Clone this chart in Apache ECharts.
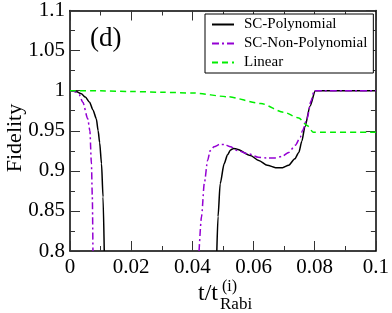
<!DOCTYPE html>
<html>
<head>
<meta charset="utf-8">
<script src="https://cdn.jsdelivr.net/npm/echarts@6/dist/echarts.min.js"></script>
<style>html,body{margin:0;padding:0;background:#fff}#c{width:392px;height:313px}</style>
</head>
<body>
<div id="c"></div>
<script>
// ---- data ----
var xTicks = [0, 0.02, 0.04, 0.06, 0.08, 0.1];
var yTicks = [0.8, 0.85, 0.9, 0.95, 1, 1.05, 1.1];

var polyT1 = [0, 0.002, 0.0037, 0.005, 0.0064, 0.0075, 0.0086, 0.0092, 0.0097, 0.0103, 0.0108, 0.0112];
var polyF1 = [1.0, 0.999, 0.996, 0.992, 0.9855, 0.976, 0.965, 0.95, 0.935, 0.909, 0.8675, 0.80];
var polyT2 = [0.0480, 0.0484, 0.0491, 0.0504, 0.0515, 0.0525, 0.0535, 0.0546, 0.059, 0.0617, 0.0645, 0.0672, 0.0695, 0.0715, 0.0735, 0.0748, 0.0758, 0.0768, 0.0785, 0.0802, 0.1];
var polyF2 = [0.80, 0.843, 0.884, 0.909, 0.920, 0.926, 0.928, 0.927, 0.919, 0.913, 0.907, 0.904, 0.904, 0.907, 0.915, 0.923, 0.937, 0.955, 0.981, 1.0, 1.0];

var nonPolyT1 = [0, 0.001, 0.002, 0.003, 0.0042, 0.0058, 0.0065, 0.007, 0.0073, 0.0075];
var nonPolyF1 = [1.0, 0.9995, 0.998, 0.995, 0.9855, 0.965, 0.95, 0.909, 0.8675, 0.80];
var nonPolyT2 = [0.0422, 0.043, 0.0439, 0.045, 0.0458, 0.0471, 0.0490, 0.0504, 0.0525, 0.0546, 0.0585, 0.0615, 0.0643, 0.067, 0.0693, 0.0715, 0.0737, 0.0753, 0.076, 0.0775, 0.0788, 0.0798, 0.1];
var nonPolyF2 = [0.80, 0.843, 0.884, 0.913, 0.925, 0.930, 0.933, 0.933, 0.930, 0.9255, 0.921, 0.917, 0.916, 0.916, 0.918, 0.923, 0.932, 0.942, 0.950, 0.965, 0.987, 1.0, 1.0];

var linearT = [0, 0.01, 0.02, 0.03, 0.0406, 0.0514, 0.0624, 0.0699, 0.0748, 0.0775, 0.0796, 0.1];
var linearF = [1.0, 0.9998, 0.999, 0.998, 0.997, 0.9925, 0.984, 0.973, 0.966, 0.9565, 0.948, 0.948];

var seriesNames = ['SC-Polynomial', 'SC-Non-Polynomial', 'Linear'];

function zip(t, f) { return t.map(function (v, i) { return [v, f[i]]; }); }
function joinSegs(a, b) { return a.concat([[ (a[a.length-1][0] + b[0][0]) / 2, null ]]).concat(b); }

var FONT = '"Liberation Serif", "Times New Roman", serif';
var chart = echarts.init(document.getElementById('c'), null, {renderer: 'canvas'});

function baseX(show) {
  return {
    type: 'value', min: 0, max: 0.1, interval: 0.02,
    position: show ? 'bottom' : 'top',
    axisLine: {show: true, onZero: false, lineStyle: {color: '#000', width: 1.5}},
    axisTick: {show: true, inside: true, length: 10, lineStyle: {color: '#333', width: 1}},
    minorTick: {show: true, splitNumber: 2, length: 5, lineStyle: {color: '#333', width: 1}},
    splitLine: {show: false},
    axisLabel: {show: show, color: '#000', fontFamily: FONT, fontSize: 21, margin: 6,
      formatter: function (v) { return String(+v.toFixed(4)); }}
  };
}
function baseY(show) {
  return {
    type: 'value', min: 0.8, max: 1.1, interval: 0.05,
    position: show ? 'left' : 'right',
    axisLine: {show: true, onZero: false, lineStyle: {color: '#000', width: 1.5}},
    axisTick: {show: true, inside: true, length: 10, lineStyle: {color: '#333', width: 1}},
    minorTick: {show: true, splitNumber: 2, length: 5, lineStyle: {color: '#333', width: 1}},
    splitLine: {show: false},
    axisLabel: {show: show, color: '#000', fontFamily: FONT, fontSize: 21, margin: 5,
      formatter: function (v) { return String(+v.toFixed(4)); }}
  };
}

var common = {type: 'line', symbol: 'none', showSymbol: false, smooth: 0.25, smoothMonotone: 'x',
  connectNulls: false, clip: true, animation: false, xAxisIndex: 0, yAxisIndex: 0};

chart.setOption({
  animation: false,
  grid: {left: 70, right: 14, top: 10, bottom: 62, containLabel: false},
  xAxis: [baseX(true), baseX(false)],
  yAxis: [baseY(true), baseY(false)],
  legend: {
    left: 205, top: 14, orient: 'vertical',
    data: seriesNames,
    backgroundColor: '#fff', borderColor: '#000', borderWidth: 1,
    padding: [3, 6, 3, 6], itemGap: 4, itemWidth: 22, itemHeight: 14,
    itemStyle: {opacity: 0, color: 'transparent', borderWidth: 0},
    textStyle: {fontFamily: FONT, fontSize: 15, color: '#000', padding: [0, 0, 0, 5]}
  },
  series: [
    Object.assign({}, common, {name: seriesNames[0],
      data: joinSegs(zip(polyT1, polyF1), zip(polyT2, polyF2)),
      lineStyle: {color: '#000', width: 1.5}, itemStyle: {color: '#000'}}),
    Object.assign({}, common, {name: seriesNames[1],
      data: joinSegs(zip(nonPolyT1, nonPolyF1), zip(nonPolyT2, nonPolyF2)),
      lineStyle: {color: '#9400d3', width: 1.5, type: [7, 3, 2, 3]}, itemStyle: {color: '#9400d3'}}),
    Object.assign({}, common, {name: seriesNames[2],
      data: zip(linearT, linearF),
      lineStyle: {color: '#00ee00', width: 1.5, type: [6, 4]}, itemStyle: {color: '#00ee00'}})
  ],
  graphic: [
    {type: 'text', left: 90, top: 25, style: {text: '(d)', font: '27px ' + FONT, fill: '#000'}},
    {type: 'text', x: 15, y: 138, rotation: Math.PI / 2,
      style: {text: 'Fidelity', font: '22px ' + FONT, fill: '#000', textAlign: 'center', textVerticalAlign: 'middle'}},
    {type: 'text', x: 198, y: 294, style: {text: 't/t', font: '24px ' + FONT, fill: '#000', textAlign: 'left', textVerticalAlign: 'middle'}},
    {type: 'text', x: 220, y: 305, style: {text: 'Rabi', font: '17px ' + FONT, fill: '#000', textAlign: 'left', textVerticalAlign: 'middle'}},
    {type: 'text', x: 222, y: 287, style: {text: '(i)', font: '16px ' + FONT, fill: '#000', textAlign: 'left', textVerticalAlign: 'middle'}}
  ]
});
</script>
</body>
</html>
